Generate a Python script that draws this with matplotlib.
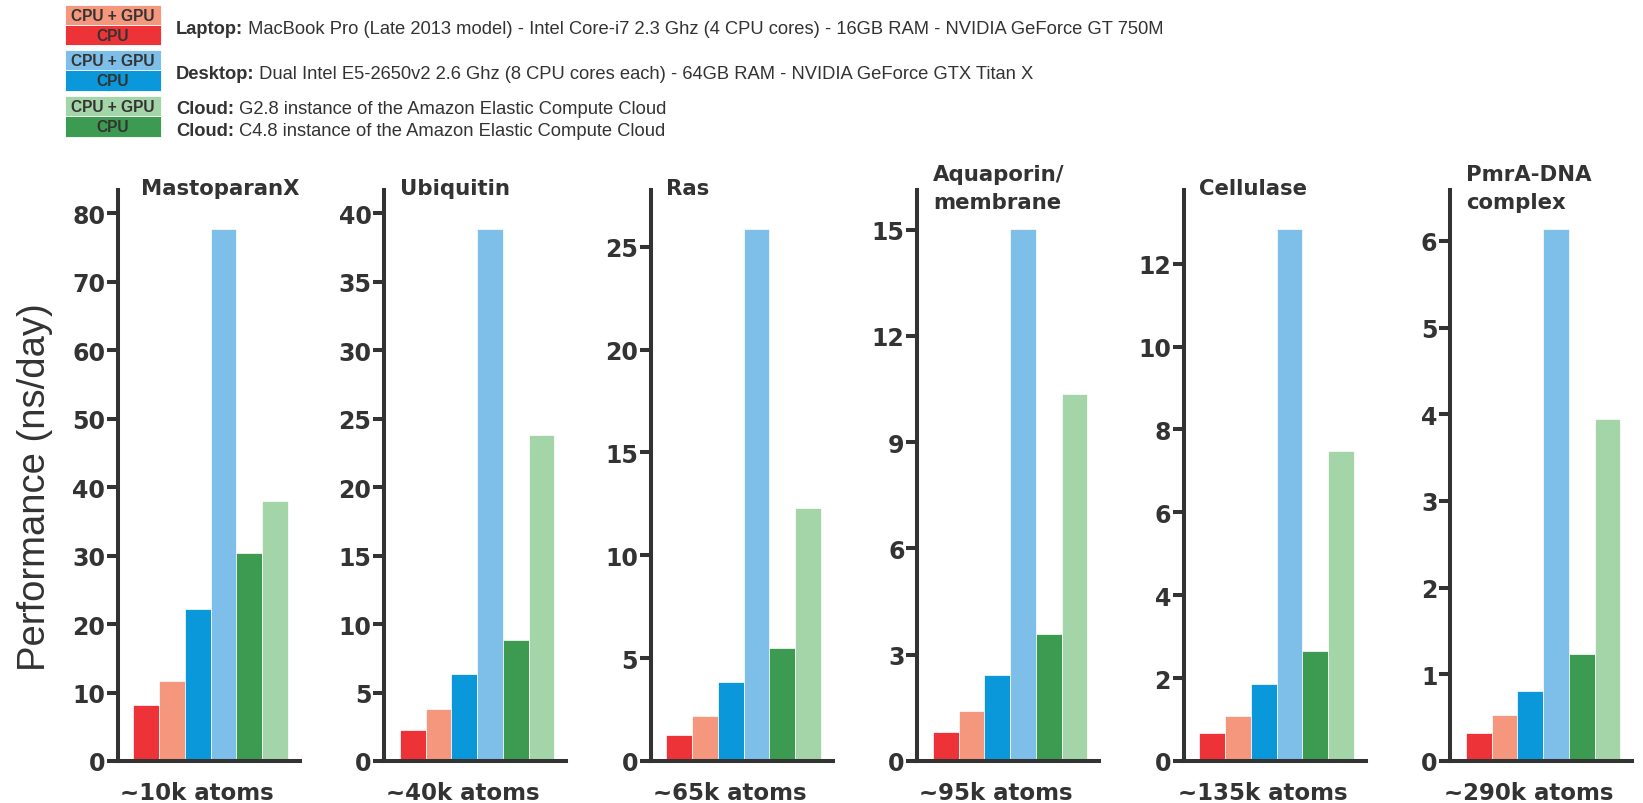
import numpy as np
import matplotlib
matplotlib.use("Agg")
import matplotlib.pyplot as plt
from matplotlib.patches import Rectangle
from matplotlib.text import Annotation

# systems and performance (ns/day)
systems = ["MastoparanX", "Ubiquitin", "Ras", "Aquaporin/\nmembrane", "Cellulase", "PmrA-DNA\ncomplex"]
sizes = ["~10k atoms", "~40k atoms", "~65k atoms", "~95k atoms", "~135k atoms", "~290k atoms"]
laptop_cpu = [8.2, 2.28, 1.27, 0.83, 0.67, 0.32]
laptop_gpu = [11.7, 3.8, 2.18, 1.42, 1.08, 0.53]
desktop_cpu = [22.2, 6.37, 3.84, 2.44, 1.86, 0.81]
desktop_gpu = [77.7, 38.85, 25.87, 15.02, 12.84, 6.14]
cloud_cpu = [30.3, 8.8, 5.49, 3.58, 2.66, 1.24]
cloud_gpu = [37.9, 23.8, 12.32, 10.36, 7.47, 3.95]
tick_step = [10, 5, 5, 3, 2, 1]
tick_max = [80, 40, 25, 15, 12, 6]

machines = [
    ("Laptop:", " MacBook Pro (Late 2013 model) - Intel Core-i7 2.3 Ghz (4 CPU cores) - 16GB RAM - NVIDIA GeForce GT 750M"),
    ("Desktop:", " Dual Intel E5-2650v2 2.6 Ghz (8 CPU cores each) - 64GB RAM - NVIDIA GeForce GTX Titan X"),
    ("Cloud:", " G2.8 instance of the Amazon Elastic Compute Cloud"),
    ("Cloud:", " C4.8 instance of the Amazon Elastic Compute Cloud"),
]

RED, SALMON = "#ee3338", "#f5977c"
BLUE, LIGHTBLUE = "#0a98da", "#7dbfe8"
GREEN, LIGHTGREEN = "#3c9a51", "#a3d5a8"
bar_colors = [RED, SALMON, BLUE, LIGHTBLUE, GREEN, LIGHTGREEN]
DARK = "#333333"

W, H = 1643, 804
fig = plt.figure(figsize=(W / 100, H / 100), dpi=100)


def px(x, y):
    # pixels from top-left -> figure fraction
    return x / W, 1 - y / H


# legend boxes
rows = [(6, 26, SALMON, "CPU + GPU"), (26, 46, RED, "CPU"),
        (51, 71, LIGHTBLUE, "CPU + GPU"), (71, 92, BLUE, "CPU"),
        (97, 117, LIGHTGREEN, "CPU + GPU"), (117, 138, GREEN, "CPU")]
for y0, y1, c, lab in rows:
    fx, fy = px(65, y1)
    fig.add_artist(Rectangle((fx, fy), 96 / W, (y1 - y0) / H, transform=fig.transFigure,
                             facecolor=c, edgecolor="white", linewidth=0.6))
    fig.text(*px(113, (y0 + y1) / 2 + 0.5), lab, ha="center", va="center",
             family="Liberation Sans", weight="bold", fontsize=11.2, color=DARK)

text_y = [28, 73, 108, 130]
for (head, rest), ty in zip(machines, text_y):
    t = fig.text(*px(176, ty + 6), head, ha="left", va="baseline", family="Liberation Sans",
                 weight="bold", fontsize=13.2, color=DARK)
    fig.add_artist(Annotation(
        rest, xy=(1, 1 - (ty + 6) / H), xycoords=(t, "figure fraction"),
        ha="left", va="baseline", family="Liberation Sans", fontsize=13.2, color=DARK))

# one panel per system
x = np.arange(6)
title_dx = [8, 0, 0, 0, 0, 0]
for i in range(6):
    left = 117.5 + 266.5 * i
    ax = fig.add_axes([left / W, 42 / H, 182 / W, 571 / H])
    vals = [laptop_cpu[i], laptop_gpu[i], desktop_cpu[i], desktop_gpu[i], cloud_cpu[i], cloud_gpu[i]]
    ax.bar(x, vals, width=1.0, color=bar_colors, edgecolor="white", linewidth=0.5)
    ax.set_xlim(-0.5 - 0.62, 5.5 + 0.45)
    ax.set_ylim(0, max(vals) * 1.073)
    ax.set_yticks(np.arange(0, tick_max[i] + 0.01, tick_step[i]))
    ax.set_xticks([])
    for s in ["top", "right"]:
        ax.spines[s].set_visible(False)
    for s in ["left", "bottom"]:
        ax.spines[s].set_linewidth(2.9)
        ax.spines[s].set_color(DARK)
        ax.spines[s].set_capstyle("projecting")
    ax.tick_params(axis="y", length=8, width=2.9, color=DARK, pad=1, labelsize=17,
                   labelcolor=DARK)
    for lab in ax.get_yticklabels():
        lab.set_fontweight("bold")
    ax.annotate(systems[i], xy=(-0.5, 1), xycoords=ax.get_xaxis_transform(),
                xytext=(title_dx[i], 2), textcoords="offset pixels", ha="left", va="center",
                fontsize=15.3, weight="bold", color=DARK, linespacing=1.5)
    ax.annotate(sizes[i], xy=(0.5, 0), xycoords="axes fraction", xytext=(-12, -32),
                textcoords="offset pixels", ha="center", va="center",
                fontsize=16.5, weight="bold", color=DARK)

fig.text(*px(35, 487), "Performance (ns/day)", rotation=90, ha="center", va="center",
         family="Liberation Sans", fontsize=27.5, color=DARK)

fig.savefig("out.png", dpi=100)
